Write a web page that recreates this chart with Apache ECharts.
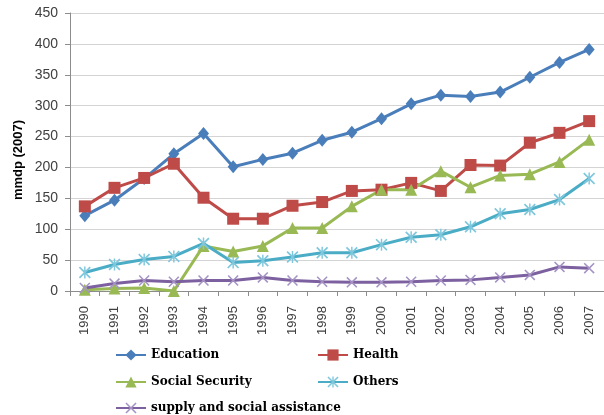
<!DOCTYPE html>
<html>
<head>
<meta charset="utf-8">
<script src="https://cdn.jsdelivr.net/npm/echarts@6/dist/echarts.min.js"></script>
<style>
html,body{margin:0;padding:0;background:#fff;}
#chart{width:604px;height:415px;}
</style>
</head>
<body>
<div id="chart"></div>
<script>
var years = ['1990','1991','1992','1993','1994','1995','1996','1997','1998','1999','2000','2001','2002','2003','2004','2005','2006','2007'];
var education = [122,147,182,222,255,201,213,223,244,257,279,303,317,315,322,346,370,391];
var health = [137,167,183,206,151,117,117,138,144,162,164,175,162,204,203,240,256,275];
var socialSecurity = [2,4,5,0,73,64,73,102,102,137,164,164,194,168,187,189,209,245];
var others = [30,43,51,56,77,46,49,55,62,62,75,87,91,104,125,132,148,182];
var supply = [5,12,17,15,17,17,22,17,15,14,14,15,17,18,22,26,39,37];
var yTicks = {min:0, max:450, interval:50};

var xPath = 'path://M0,1L1,0L5,4L9,0L10,1L6,5L10,9L9,10L5,6L1,10L0,9L4,5Z';
var starPath = 'path://M0,1L1,0L5,4L9,0L10,1L6,5L10,9L9,10L5,6L1,10L0,9L4,5Z M4.4,0H5.6V10H4.4Z';

var legendFont = {fontFamily:'DejaVu Serif', fontWeight:'bold', fontSize:12, color:'#000'};
function lg(name, left, top){
  return {data:[name], left:left, top:top, itemWidth:30, itemHeight:14, itemGap:0, textStyle:legendFont, selectedMode:false};
}

function ser(name, data, color, symbol, size, markerColor){
  return {
    name:name, type:'line', data:data, symbol:symbol, symbolSize:size,
    showAllSymbol:true,
    lineStyle:{color:color, width:3},
    itemStyle:{color:markerColor || color},
    emphasis:{disabled:true},
    animation:false
  };
}

var chart = echarts.init(document.getElementById('chart'));
chart.setOption({
  animation:false,
  grid:{left:70, right:-9.6, top:13, bottom:124, containLabel:false},
  legend:[
    lg('Education',110,344),
    lg('Health',312,344),
    lg('Social Security',110,371),
    lg('Others',312,371),
    lg('supply and social assistance',110,397)
  ],
  xAxis:{
    type:'category', data:years, boundaryGap:true,
    axisLine:{lineStyle:{color:'#8c8c8c', width:1}},
    axisTick:{show:true, length:5, lineStyle:{color:'#8c8c8c'}},
    axisLabel:{rotate:90, fontSize:13, color:'#404040', fontFamily:'Liberation Sans', margin:15, interval:0}
  },
  yAxis:{
    type:'value', min:yTicks.min, max:yTicks.max, interval:yTicks.interval,
    axisLine:{show:true, lineStyle:{color:'#8c8c8c', width:1}},
    axisTick:{show:true, length:5, lineStyle:{color:'#8c8c8c'}},
    axisLabel:{fontSize:14, color:'#404040', fontFamily:'Liberation Sans', margin:12},
    splitLine:{lineStyle:{color:'#d4d4d4', width:1}}
  },
  graphic:[{
    type:'text', x:18, y:160, rotation:Math.PI/2,
    style:{text:'mmdp (2007)', fontFamily:'Liberation Sans', fontWeight:'bold', fontSize:13, fill:'#000', align:'center', verticalAlign:'middle'}
  }],
  series:[
    ser('Education', education, '#4a7ebb', 'diamond', [11,13]),
    ser('Health', health, '#be4b48', 'rect', 12),
    ser('Social Security', socialSecurity, '#98b954', 'triangle', 12),
    ser('Others', others, '#4bacc6', starPath, 12, '#7fc7dc'),
    ser('supply and social assistance', supply, '#7d60a0', xPath, 11, '#a593c4')
  ]
});
</script>
</body>
</html>
